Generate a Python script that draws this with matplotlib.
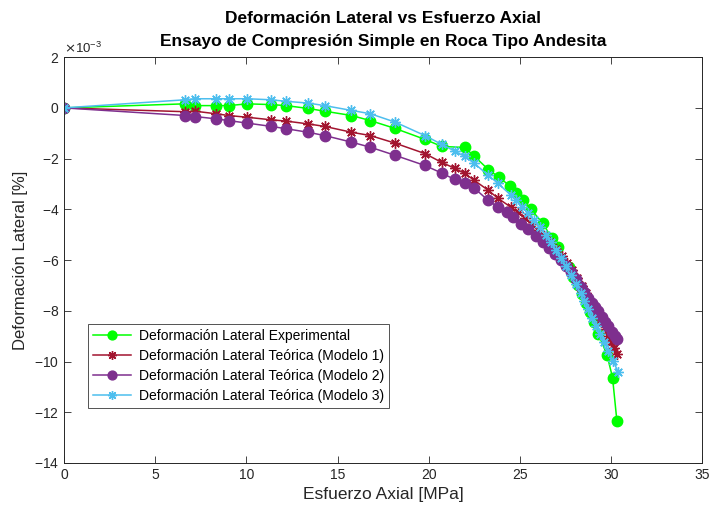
import numpy as np
import matplotlib
matplotlib.use("Agg")
import matplotlib.pyplot as plt
from matplotlib.ticker import ScalarFormatter

plt.rcParams["font.family"] = ["Liberation Sans", "DejaVu Sans"]
plt.rcParams["axes.unicode_minus"] = False

# esfuerzo axial [MPa] y deformacion lateral [x1e-3 %]
x_exp = [0, 6.63, 7.17, 8.32, 9.02, 10.05, 11.36, 12.17, 13.37, 14.29, 15.76, 16.79,
         18.15, 19.78, 20.71, 21.96, 22.5, 23.26, 23.86, 24.46, 24.78, 25.16, 25.6,
         26.25, 26.74, 27.07, 27.66, 27.93, 28.2, 28.42, 28.64, 28.86, 29.08, 29.29,
         29.77, 30.07, 30.31]
y_exp = [0, 0.16, 0.09, 0.09, 0.09, 0.16, 0.13, 0.09, -0.02, -0.13, -0.30, -0.50,
         -0.81, -1.24, -1.52, -1.56, -1.91, -2.43, -2.74, -3.09, -3.37, -3.64, -4.0,
         -4.55, -5.14, -5.5, -6.29, -6.65, -7.0, -7.35, -7.7, -8.05, -8.45, -8.9,
         -9.75, -10.63, -12.35]

x_m1 = [0, 6.63, 7.17, 8.32, 9.02, 10.05, 11.36, 12.17, 13.37, 14.29, 15.76, 16.79,
        18.15, 19.78, 20.71, 21.41, 21.96, 22.5, 23.26, 23.8, 24.51, 24.89, 25.27,
        25.65, 25.98, 26.3, 26.63, 26.96, 27.28, 27.55, 27.83, 28.1, 28.37, 28.59,
        28.8, 29.02, 29.24, 29.46, 29.67, 29.84, 30.0, 30.16, 30.33]
y_m1 = [0, -0.15, -0.13, -0.23, -0.30, -0.37, -0.47, -0.52, -0.63, -0.73, -0.96, -1.09,
        -1.39, -1.8, -2.15, -2.38, -2.58, -2.86, -3.25, -3.57, -3.92, -4.12, -4.35,
        -4.59, -4.82, -5.06, -5.3, -5.57, -5.85, -6.12, -6.4, -6.71, -7.03, -7.31,
        -7.58, -7.86, -8.17, -8.45, -8.72, -9.0, -9.23, -9.47, -9.71]

x_m2 = [0, 6.63, 7.17, 8.32, 9.02, 10.05, 11.36, 12.17, 13.37, 14.29, 15.76, 16.79,
        18.15, 19.78, 20.71, 21.41, 21.96, 22.5, 23.26, 23.8, 24.3, 24.62, 25.05,
        25.43, 25.87, 26.25, 26.58, 26.9, 27.23, 27.5, 27.77, 28.04, 28.32, 28.53,
        28.75, 28.97, 29.13, 29.29, 29.51, 29.67, 29.84, 30.05, 30.22, 30.33]
y_m2 = [0, -0.30, -0.34, -0.43, -0.50, -0.60, -0.73, -0.82, -0.96, -1.09, -1.35, -1.55,
        -1.87, -2.27, -2.57, -2.82, -2.98, -3.17, -3.65, -3.92, -4.1, -4.31, -4.59,
        -4.79, -5.06, -5.30, -5.54, -5.77, -6.01, -6.24, -6.48, -6.76, -7.07, -7.27,
        -7.51, -7.70, -7.86, -8.01, -8.25, -8.45, -8.61, -8.84, -9.0, -9.12]

x_m3 = [0, 6.63, 7.17, 8.32, 9.02, 10.05, 11.36, 12.17, 13.37, 14.29, 15.76, 16.79,
        18.15, 19.78, 20.71, 21.41, 21.96, 22.5, 23.26, 23.8, 24.51, 24.78, 25.11,
        25.43, 25.76, 26.09, 26.41, 26.68, 26.96, 27.23, 27.5, 27.77, 28.04, 28.32,
        28.53, 28.75, 28.97, 29.18, 29.4, 29.62, 29.84, 30.11, 30.38]
y_m3 = [0, 0.32, 0.36, 0.36, 0.36, 0.36, 0.32, 0.26, 0.19, 0.09, -0.10, -0.23,
        -0.56, -1.09, -1.44, -1.70, -1.91, -2.19, -2.66, -2.98, -3.45, -3.65, -3.89,
        -4.16, -4.43, -4.71, -5.02, -5.3, -5.61, -5.93, -6.24, -6.6, -6.95, -7.31,
        -7.62, -7.94, -8.29, -8.6, -8.92, -9.23, -9.59, -9.98, -10.42]

labels = ["Deformación Lateral Experimental",
          "Deformación Lateral Teórica (Modelo 1)",
          "Deformación Lateral Teórica (Modelo 2)",
          "Deformación Lateral Teórica (Modelo 3)"]


def main():
    fig = plt.figure(figsize=(7.11, 5.15), dpi=100)
    ax = fig.add_axes([0.090, 0.101, 0.898, 0.788])

    sc = 1e-3
    ast = (8, 2, 0)  # asterisco tipo matlab
    ax.plot(x_exp, np.array(y_exp) * sc, "-o", color="#00ff00", mfc="#00ff00", mec="#00ff00",
            ms=7.5, lw=1.1, label=labels[0])
    ax.plot(x_m1, np.array(y_m1) * sc, "-", marker=ast, color="#a2142f", ms=7.5, mew=1.0,
            lw=1.1, label=labels[1])
    ax.plot(x_m2, np.array(y_m2) * sc, "-o", color="#7e2f8e", mfc="#7e2f8e", mec="#7e2f8e",
            ms=7.5, lw=1.1, label=labels[2])
    ax.plot(x_m3, np.array(y_m3) * sc, "-", marker=ast, color="#4dbeee", ms=7.5, mew=1.0,
            lw=1.1, label=labels[3])

    ax.set_xlim(0, 35)
    ax.set_ylim(-14e-3, 2e-3)
    ax.set_xticks(np.arange(0, 36, 5))
    ax.set_yticks(np.arange(-14, 3, 2) * sc)
    fmt = ScalarFormatter(useMathText=True)
    fmt.set_powerlimits((-3, -3))
    ax.yaxis.set_major_formatter(fmt)
    ax.yaxis.get_offset_text().set_fontsize(9.5)
    ax.yaxis.get_offset_text().set_color("#262626")

    ax.tick_params(direction="in", top=True, right=True, labelsize=10,
                   colors="#262626", length=5, width=0.6)
    for s in ax.spines.values():
        s.set_linewidth(0.7)
        s.set_color("#262626")

    ax.set_xlabel("Esfuerzo Axial [MPa]", fontsize=12.5, color="#262626")
    ax.set_ylabel("Deformación Lateral [%]", fontsize=12, color="#262626")
    ax.set_title("Deformación Lateral vs Esfuerzo Axial\nEnsayo de Compresión Simple en Roca Tipo Andesita",
                 fontsize=12.5, fontweight="bold", pad=8, linespacing=1.7)

    leg = ax.legend(loc="lower left", bbox_to_anchor=(0.038, 0.135), fontsize=10,
                    frameon=True, fancybox=False, borderpad=0.35, labelspacing=0.45,
                    handlelength=2.7, handletextpad=0.6, borderaxespad=0.0, markerscale=0.85)
    leg.get_frame().set_edgecolor("#262626")
    leg.get_frame().set_linewidth(0.7)

    fig.savefig("out.png", dpi=100)
    plt.close(fig)


if __name__ == "__main__":
    main()
